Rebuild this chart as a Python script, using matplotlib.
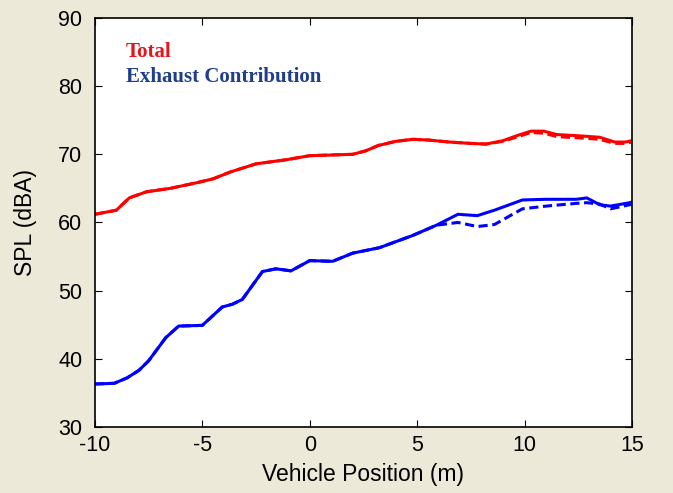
import matplotlib
matplotlib.use("Agg")
import matplotlib.pyplot as plt

# Total (measured) - solid y dashed casi encima
tot_x = [-10, -9, -8.4, -7.6, -6.5, -5.3, -4.5, -3.7, -2.5, -1.1, 0, 1, 2, 2.6, 3.2, 4,
         4.8, 5.5, 6.5, 7.5, 8.2, 9, 9.7, 10.3, 10.9, 11.5, 12.6, 13.5, 14.2, 14.7, 15]
tot_solid = [61.2, 61.8, 63.6, 64.5, 65.0, 65.8, 66.4, 67.4, 68.6, 69.2, 69.8, 69.9, 70.0, 70.5,
             71.3, 71.9, 72.2, 72.1, 71.8, 71.6, 71.5, 72.0, 72.8, 73.4, 73.4, 72.9, 72.7, 72.5,
             71.8, 71.8, 72.0]
tot_dash = [61.2, 61.8, 63.6, 64.5, 65.0, 65.8, 66.4, 67.4, 68.6, 69.2, 69.8, 69.9, 70.0, 70.5,
            71.3, 71.9, 72.2, 72.1, 71.8, 71.6, 71.5, 71.9, 72.6, 73.2, 73.1, 72.6, 72.4, 72.2,
            71.6, 71.6, 71.8]

# Exhaust contribution
exh_x = [-10, -9.1, -8.5, -7.95, -7.5, -6.7, -6.1, -5.0, -4.07, -3.6, -3.14, -2.2, -1.57, -0.87,
         0, 1.07, 2.0, 3.25, 4.8, 5.9, 6.9, 7.8, 8.6, 9.9, 11.0, 12.4, 12.9, 13.5, 14.0, 14.9, 15]
exh_solid = [36.3, 36.4, 37.2, 38.3, 39.7, 43.1, 44.8, 44.9, 47.6, 48.0, 48.7, 52.8, 53.2, 52.9,
             54.4, 54.3, 55.5, 56.3, 58.1, 59.6, 61.2, 61.0, 61.8, 63.3, 63.4, 63.4, 63.6, 62.6,
             62.4, 62.9, 63.0]
exh_dash = [36.3, 36.4, 37.2, 38.3, 39.7, 43.1, 44.8, 44.9, 47.6, 48.0, 48.7, 52.8, 53.2, 52.9,
            54.4, 54.3, 55.5, 56.3, 58.1, 59.6, 60.0, 59.4, 59.7, 62.0, 62.4, 62.8, 62.9, 62.7,
            62.0, 62.6, 62.7]

xticks = [-10, -5, 0, 5, 10, 15]
yticks = [30, 40, 50, 60, 70, 80, 90]

plt.rcParams['font.family'] = 'Liberation Sans'
plt.rcParams['axes.unicode_minus'] = False

fig = plt.figure(figsize=(6.73, 4.93), dpi=100, facecolor='#ECE9D8')
ax = fig.add_axes([0.141, 0.134, 0.798, 0.8295])

ax.plot(tot_x, tot_solid, color='#ff0000', lw=2.2)
ax.plot(tot_x, tot_dash, color='#ff0000', lw=2.2, ls='--', dashes=(3, 1.5))
ax.plot(exh_x, exh_solid, color='#0000ff', lw=2.2)
ax.plot(exh_x, exh_dash, color='#0000ff', lw=2.2, ls='--', dashes=(3, 1.5))

ax.text(-8.55, 85.0, 'Total', color='#e8141c', fontsize=15, fontweight='bold',
        family='Liberation Serif', va='center')
ax.text(-8.55, 81.4, 'Exhaust Contribution', color='#1f3f8c', fontsize=15, fontweight='bold',
        family='Liberation Serif', va='center')

ax.set_xlim(-10, 15)
ax.set_ylim(30, 90)
ax.set_xticks(xticks)
ax.set_yticks(yticks)
ax.tick_params(direction='in', top=True, right=True, length=5, labelsize=15.5)
ax.tick_params(axis='x', pad=6)
ax.tick_params(axis='y', pad=9)
ax.set_xlabel('Vehicle Position (m)', fontsize=16.5, labelpad=5)
ax.set_ylabel('SPL (dBA)', fontsize=16.5, labelpad=15)
for s in ax.spines.values():
    s.set_linewidth(1.2)

plt.savefig('out.png', dpi=100, facecolor=fig.get_facecolor())
